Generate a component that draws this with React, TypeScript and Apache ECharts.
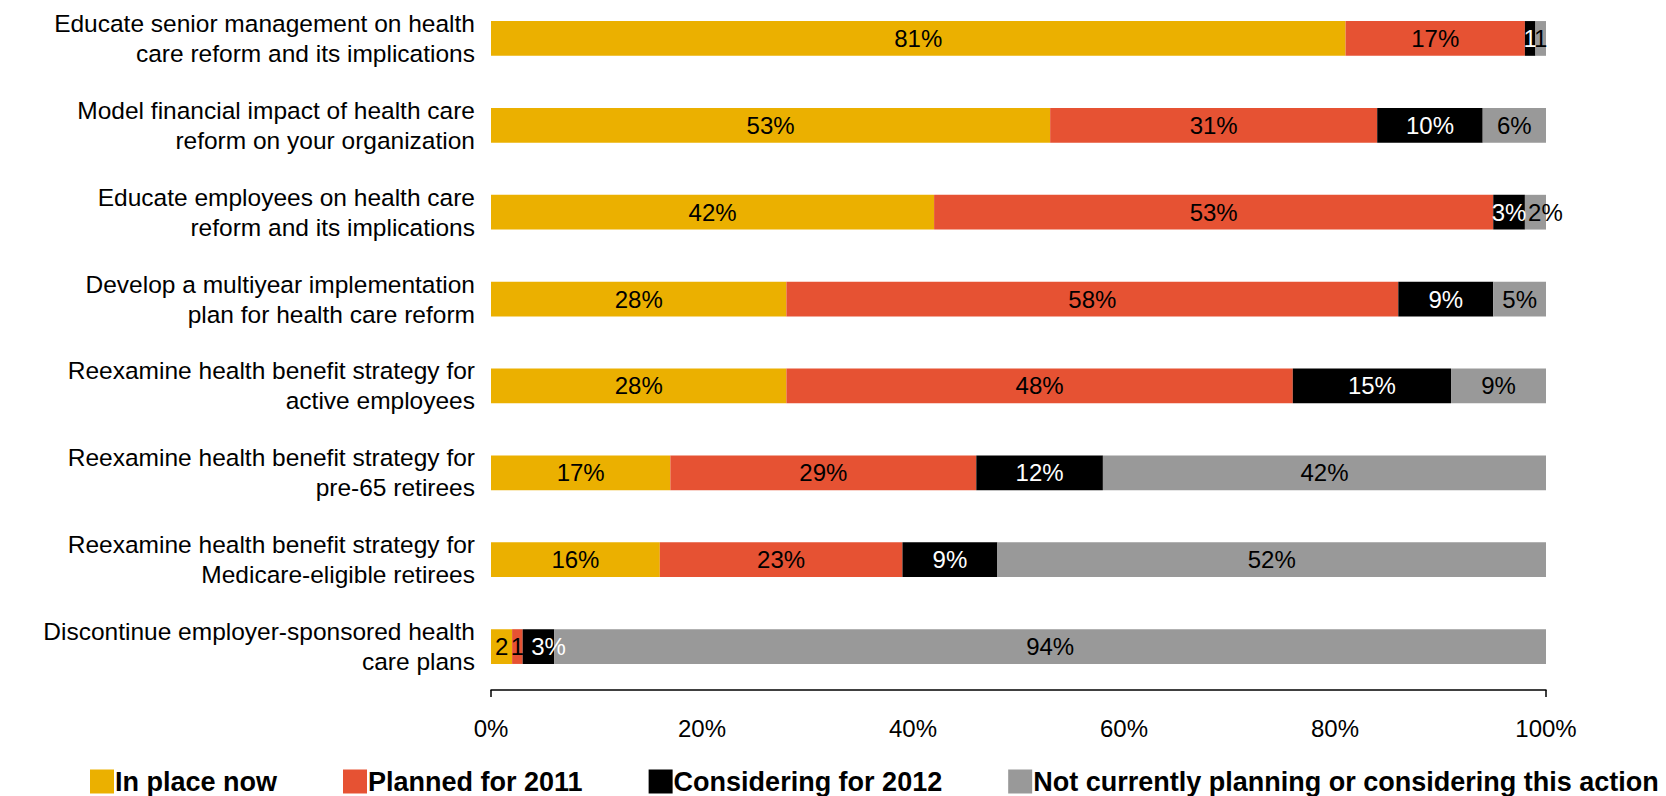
import React, { useEffect, useRef } from "react";
import * as echarts from "echarts";

const categories = [
  "Educate senior management on health\ncare reform and its implications",
  "Model financial impact of health care\nreform on your organization",
  "Educate employees on health care\nreform and its implications",
  "Develop a multiyear implementation\nplan for health care reform",
  "Reexamine health benefit strategy for\nactive employees",
  "Reexamine health benefit strategy for\npre-65 retirees",
  "Reexamine health benefit strategy for\nMedicare-eligible retirees",
  "Discontinue employer-sponsored health\ncare plans",
];

const seriesNames = [
  "In place now",
  "Planned for 2011",
  "Considering for 2012",
  "Not currently planning or considering this action",
];

const inPlaceNow = [81, 53, 42, 28, 28, 17, 16, 2];
const plannedFor2011 = [17, 31, 53, 58, 48, 29, 23, 1];
const consideringFor2012 = [1, 10, 3, 9, 15, 12, 9, 3];
const notPlanning = [1, 6, 2, 5, 9, 42, 52, 94];

// [categoryIndex, seriesIndex] of labels shown as bare numbers (no % sign)
const bareLabels = [
  [0, 2],
  [0, 3],
  [7, 0],
  [7, 1],
];

// [categoryIndex, seriesIndex, horizontal label nudge in px] for crowded small segments
const labelNudges = [
  [2, 3, 10],
  [7, 2, 10],
];

const xTicks = { min: 0, max: 100, interval: 20 };

const colors = ["#EBB000", "#E65233", "#000000", "#999999"];
const labelColors = ["#000000", "#000000", "#FFFFFF", "#000000"];

const FONT = '"Liberation Sans", Arial, Helvetica, sans-serif';

export default function App() {
  const ref = useRef<HTMLDivElement>(null);

  useEffect(() => {
    if (!ref.current) return;
    const chart = echarts.init(ref.current, null, { renderer: "svg" });
    const values = [inPlaceNow, plannedFor2011, consideringFor2012, notPlanning];

    const series = values.map((vals, si) => ({
      name: seriesNames[si],
      type: "bar",
      stack: "total",
      barWidth: "40%",
      itemStyle: { color: colors[si] },
      label: {
        show: true,
        position: "inside",
        color: labelColors[si],
        fontFamily: FONT,
        fontSize: 24,
        formatter: (p: any) => {
          const bare = bareLabels.some(([ci, s]) => ci === p.dataIndex && s === si);
          return bare ? `${p.value}` : `${p.value}%`;
        },
      },
      data: vals.map((v, ci) => {
        const n = labelNudges.find(([c, s]) => c === ci && s === si);
        return n ? { value: v, label: { offset: [n[2], 0] } } : v;
      }),
    }));

    chart.setOption({
      animation: false,
      textStyle: { fontFamily: FONT },
      grid: {
        left: 491,
        right: 120,
        top: 0,
        height: 695,
        containLabel: false,
        outerBoundsMode: "none",
      },
      legend: {
        left: 85,
        top: 768,
        itemWidth: 24,
        itemHeight: 24,
        itemGap: 66,
        icon: "rect",
        textStyle: {
          fontFamily: FONT,
          fontSize: 27,
          lineHeight: 27,
          fontWeight: "bold",
          color: "#000",
          padding: [0, 0, 0, -4],
        },
        data: seriesNames,
      },
      xAxis: [
        {
          type: "value",
          min: xTicks.min,
          max: xTicks.max,
          interval: xTicks.interval,
          splitLine: { show: false },
          axisLine: { show: true, lineStyle: { color: "#000", width: 1.5 } },
          axisTick: { show: false },
          axisLabel: {
            formatter: "{value}%",
            fontFamily: FONT,
            fontSize: 24,
            color: "#000",
            margin: 26,
          },
        },
        {
          type: "value",
          position: "bottom",
          min: xTicks.min,
          max: xTicks.max,
          interval: xTicks.max - xTicks.min,
          splitLine: { show: false },
          axisLine: { show: false },
          axisTick: { show: true, length: 7, lineStyle: { color: "#000", width: 1.5 } },
          axisLabel: { show: false },
        },
      ],
      yAxis: {
        type: "category",
        inverse: true,
        data: categories,
        axisLine: { show: false },
        axisTick: { show: false },
        axisLabel: {
          fontFamily: FONT,
          fontSize: 24.5,
          lineHeight: 30,
          color: "#000",
          margin: 16,
          align: "right",
          padding: [0, 0, 8, 0],
        },
      },
      series,
    });

    return () => chart.dispose();
  }, []);

  return (
    <div
      ref={ref}
      style={{ position: "fixed", left: 0, top: -5, width: 1666, height: 801, background: "#fff" }}
    />
  );
}
